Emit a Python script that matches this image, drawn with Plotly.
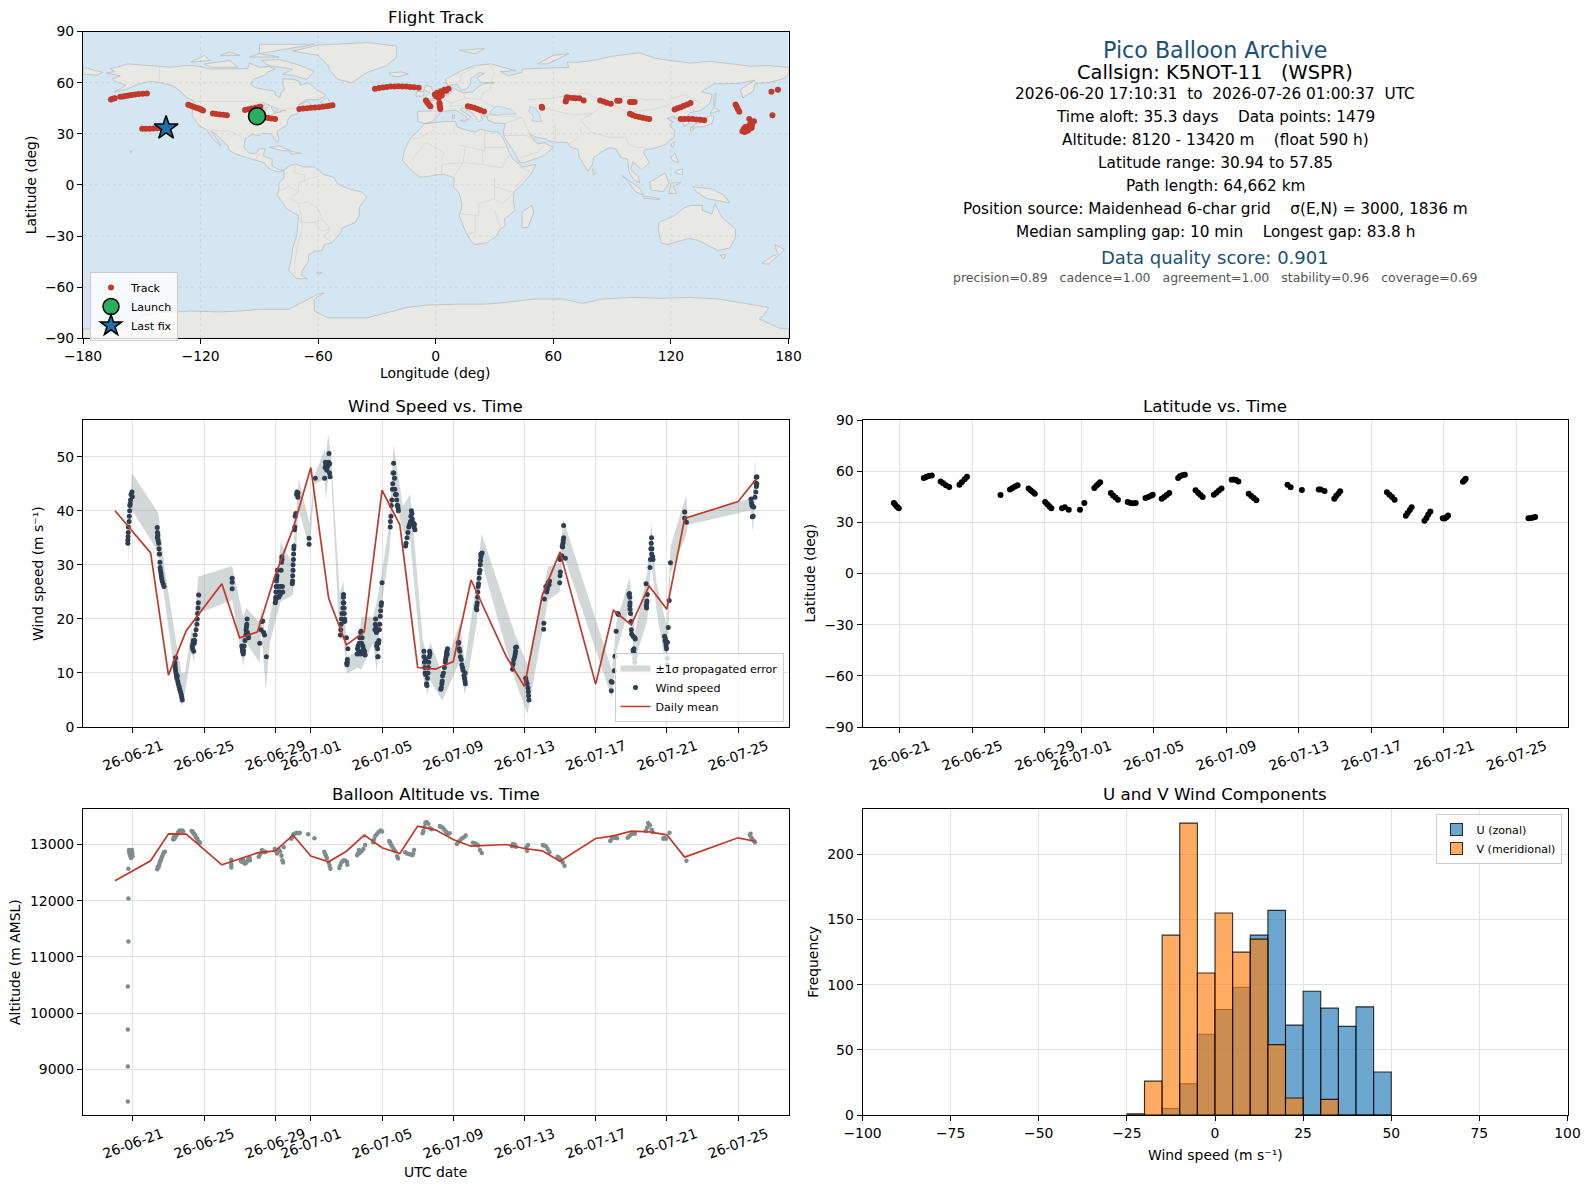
"""
plot.py

Pico balloon flight summary: track map, info text, wind, latitude, altitude, wind histogram.
Values are read off the reference picture.
"""

import pandas as pd
import plotly.graph_objects as go

# the browser keeps its 8 px body margin around the plot
PAGE_MARGIN = 8
FIG_W, FIG_H = 1590 - 2 * PAGE_MARGIN, 1189 - 2 * PAGE_MARGIN
FONT = "DejaVu Sans"

# ---- colours
RED = "#c0392b"
NAVY = "#2c3e50"
GREY = "#7f8c8d"
TITLE_BLUE = "#1a5276"
OCEAN = "#d4e6f1"
LAND = "#e8e8e4"
COAST = "#b9bcbe"
BORDER = "#d2d3d2"
GRID = "#e2e2e2"

# ---- dates
START_DAY = "2026-06-20"
date_ticks = ["2026-06-21", "2026-06-25", "2026-06-29", "2026-07-01", "2026-07-05",
              "2026-07-09", "2026-07-13", "2026-07-17", "2026-07-21", "2026-07-25"]
date_range = ["2026-06-18 04:48", "2026-07-27 20:00"]
# latitude panel has no daily means, so its range starts later
lat_date_range = ["2026-06-18 22:50", "2026-07-27 19:30"]

# ---- map: track fixes
track_lon = [-165.7, -164.8, -163.8, -161.0, -159.6, -158.2, -156.8, -155.2, -153.4, -151.6, -149.5, -147.4,
             -149.8, -148.0, -146.0, -144.0, -142.0, -140.0, -137.6,
             -126.3, -125.0, -123.6, -122.2, -120.8, -119.8, -118.8,
             -113.7, -112.0, -110.2, -108.4, -106.6,
             -97.3, -95.6, -93.8, -92.0, -90.4, -89.5,
             -88.4, -87.0, -85.4, -83.8, -82.0,
             -69.6, -67.6, -65.6, -63.6, -61.6, -59.6, -57.6, -55.6, -54.2, -52.7,
             -31.0, -29.0, -27.0, -25.0, -23.0, -21.0, -19.0, -17.0, -15.0, -13.0, -11.0, -8.7,
             -5.0, -4.4, -3.6, -2.8,
             -0.5, 0.2, 0.8, 1.8, 2.6, 3.4, 4.4, 5.4, 6.5, 1.5, 3.0,
             1.9, 2.0, 2.1, 2.3,
             16.4, 18.0, 19.6, 21.2, 22.8, 24.6,
             54.1, 54.3,
             66.3, 66.6, 66.9, 68.0, 70.0, 71.5, 73.3, 75.5,
             83.9, 85.6, 87.2, 89.3,
             92.6, 93.8,
             99.1, 100.3, 101.5,
             99.1, 100.4, 102.0, 103.8, 105.6, 107.4, 109.0,
             121.9, 123.4, 125.0, 126.6, 128.4, 130.0,
             125.0, 127.0, 129.0, 131.0, 133.0, 135.0, 137.0,
             153.0, 153.6, 154.2, 154.9,
             156.5, 157.6, 158.6, 159.8, 160.8, 161.6, 162.4, 160.0, 158.0, 157.2, 159.4, 161.2,
             157.8, 158.8, 160.2, 161.4, 159.0, 160.5,
             171.3, 174.6, 171.8]
track_lat = [50.1, 50.5, 50.9, 51.7, 51.9, 52.1, 52.5, 52.8, 53.1, 53.4, 53.5, 53.6,
             32.9, 32.9, 33.0, 33.1, 33.2, 33.3, 33.4,
             47.0, 46.5, 45.9, 45.3, 44.8, 44.2, 43.6,
             41.9, 41.6, 41.3, 41.1, 40.9,
             44.0, 44.4, 44.8, 45.2, 45.6, 45.8,
             39.7, 39.5, 39.2, 39.0, 38.7,
             44.6, 44.8, 45.0, 45.2, 45.4, 45.6, 45.9, 46.2, 46.5, 46.8,
             56.4, 56.8, 57.2, 57.5, 57.7, 57.8, 57.85, 57.8, 57.7, 57.5, 57.3, 57.0,
             49.5, 48.5, 47.3, 46.2,
             53.0, 52.0, 54.0, 53.0, 55.0, 54.5, 55.8, 55.2, 56.4, 51.0, 52.5,
             48.0, 47.0, 45.8, 44.6,
             46.2, 45.7, 45.2, 44.5, 43.8, 43.0,
             45.8, 45.2,
             49.0, 50.0, 51.4, 51.2, 51.0, 50.9, 50.8, 49.5,
             49.5, 49.0, 48.2, 47.6,
             49.3, 49.3,
             48.7, 48.7, 48.6,
             41.7, 41.0, 40.3, 39.8, 39.4, 39.0, 38.7,
             44.2, 44.9, 45.6, 46.4, 47.2, 48.1,
             38.7, 38.7, 38.7, 38.6, 38.4, 38.2, 38.0,
             47.2, 45.8, 44.4, 42.9,
             31.5, 31.0, 32.6, 34.6, 36.0, 36.8, 37.4, 38.7, 34.0, 33.0, 32.0, 33.6,
             32.0, 33.8, 35.2, 35.5, 31.8, 33.2,
             54.6, 55.8, 40.9]
launch_lon, launch_lat = [-91.2], [40.3]
last_lon, last_lat = [-137.6], [33.4]

map_lon_ticks = [-180, -120, -60, 0, 60, 120, 180]
map_lat_ticks = [-90, -60, -30, 0, 30, 60, 90]

# ---- map: land outlines as lon, lat rings
north_america = [(-168, 65.6), (-164, 66.5), (-166, 68.3), (-163, 69), (-157, 71), (-150, 70.5), (-141, 69.7),
                 (-135, 69), (-128, 70), (-122, 69.8), (-115, 68), (-108, 68), (-100, 68), (-96, 68.2), (-95, 71.5),
                 (-90, 69), (-85, 69.5), (-82, 68), (-86, 66), (-87, 64.5), (-93, 62), (-94.5, 59), (-92, 57),
                 (-85, 55.3), (-82, 55), (-82, 52.8), (-79.5, 51.3), (-79, 54), (-77, 56), (-78, 58.5), (-78, 62.3),
                 (-73, 62), (-70, 61), (-69, 58.5), (-65, 60), (-61, 56), (-56, 52.5), (-60, 50), (-66, 50), (-70, 47),
                 (-65, 49), (-64, 46.5), (-61, 46), (-65.5, 43.8), (-70, 43.7), (-70.5, 41.7), (-74, 40.7), (-75.5, 38),
                 (-76, 35), (-81, 31.5), (-80, 26.5), (-81, 25), (-82.7, 28), (-84, 30), (-89, 30.2), (-90, 29),
                 (-94, 29.5), (-97.3, 27), (-97.8, 22), (-95, 18.5), (-91.5, 18.5), (-90.5, 21), (-87, 21.5), (-88, 17),
                 (-83.5, 15), (-83.5, 11), (-80, 9), (-77.5, 8.5), (-79.5, 7.5), (-83, 8.5), (-85.5, 10), (-87.5, 13),
                 (-92, 14.5), (-96, 16), (-102, 18), (-105.5, 20.5), (-106, 23), (-109, 26), (-112.5, 30), (-114.7, 31.5),
                 (-112, 27), (-109.5, 23), (-112, 25), (-115, 29), (-117, 32.5), (-120.5, 34.5), (-122.5, 37.5),
                 (-124.3, 40.5), (-124, 46), (-123, 49), (-127, 51), (-130, 54.5), (-134, 58), (-140, 60), (-146, 60.8),
                 (-152, 59), (-158, 56), (-164, 54.5), (-158, 58.5), (-162, 60), (-165, 62), (-161, 64)]
south_america = [(-77.5, 8.5), (-75, 11), (-71.5, 12.3), (-68, 10.7), (-62, 10.5), (-57, 6), (-52, 4.5), (-50, 0.5),
                 (-44, -2.5), (-38, -4), (-35, -7), (-39, -13), (-39, -18), (-41, -22), (-48, -25.5), (-48.5, -28),
                 (-53, -34), (-57, -35), (-58, -38.5), (-62, -39), (-65, -41), (-65, -45), (-68, -50), (-68.5, -53),
                 (-65.5, -55), (-71, -55), (-75, -50), (-73.5, -42), (-73, -37), (-71, -30), (-70, -18), (-76, -14),
                 (-81, -6), (-80, -2.5), (-80, 1), (-77.5, 4)]
africa = [(-6, 35.8), (3, 37), (10, 37.3), (11, 34), (15, 32.3), (20, 31), (23, 32.5), (29, 31), (32, 31.2), (34, 28),
          (36, 23.5), (37.5, 19), (39.5, 15), (43, 12), (44, 10.5), (51, 12), (49, 7), (43, -1), (40, -4), (39.5, -10),
          (40.5, -15), (35, -20), (35.5, -24), (32.7, -26), (31, -30), (26, -34), (20, -35), (18, -33), (15, -27),
          (12, -18), (13.5, -12), (12, -5), (9, -1), (9.5, 4), (5, 6), (1, 6), (-4, 5), (-8, 4.5), (-13, 9), (-17, 14.5),
          (-16, 20), (-13, 27.5), (-9.5, 31)]
eurasia = [(-9, 37), (-9.3, 43), (-2, 43.5), (-1, 46), (-4.5, 48.5), (1.5, 50.5), (4, 52), (8, 54), (8.5, 57), (11, 55.5),
           (14, 54), (19, 54.5), (21, 57), (24, 59.2), (30, 60), (23, 60), (21, 63), (25, 65.5), (22, 65.8), (17.5, 62),
           (18, 60), (16, 56.5), (13, 55.5), (11, 59), (6, 58.3), (5, 62), (14, 67.5), (20, 70), (28, 71), (41, 67),
           (33, 66.5), (37, 64), (44, 66), (44, 68), (54, 68.5), (68, 69), (67, 72), (73, 72), (80, 73), (90, 75.5),
           (104, 77.5), (113, 74), (130, 71.5), (140, 72.5), (160, 69.7), (170, 70), (180, 69), (180, 65), (178, 62.5),
           (170, 60), (163, 59.5), (162, 55), (156.7, 51), (155.5, 56), (163, 61.5), (155, 59.5), (142, 59.3),
           (135.5, 54.7), (141, 53), (140, 48), (135, 43.5), (130, 42.5), (127.5, 39.5), (129.5, 36), (126.5, 34.5),
           (126, 37.5), (125, 39.6), (121.5, 39), (122, 40.5), (118, 39), (121, 37), (119.5, 35), (122, 31), (121.5, 28),
           (117, 23.5), (110, 21), (107, 21), (106, 19), (109, 13), (105, 8.8), (103, 11), (100.5, 13.5), (99.5, 9),
           (103.5, 4.5), (104, 1.3), (101, 3), (98.5, 8), (98, 15), (94.5, 16), (92, 21), (89, 21.8), (87, 21), (80.5, 16),
           (80, 12), (77.5, 8), (73, 17), (72.5, 21), (69, 22), (67, 25), (61, 25), (57, 26), (56.5, 27), (51, 28), (48, 30),
           (50, 26), (52, 24), (56, 25), (56.5, 24), (60, 22), (55, 17), (45, 13), (43, 13), (39, 21), (35, 28), (34.5, 31),
           (35.5, 36), (30, 36.3), (26.5, 38), (26.5, 40.2), (23, 40.5), (24, 38), (22, 37), (19.5, 41), (19, 42),
           (13.5, 45.5), (12.5, 44), (18, 40), (16, 38), (15.7, 40), (10, 44), (3, 43), (0, 39), (-2, 37), (-5.5, 36)]
chukotka = [(-180, 69), (-175, 67.5), (-170, 66), (-173, 64.3), (-180, 65)]
greenland = [(-73, 78.5), (-60, 82), (-35, 83.5), (-20, 81.5), (-20, 75), (-25, 70), (-35, 66), (-43, 60), (-50, 62),
             (-54, 67), (-55, 70), (-60, 76)]
australia = [(114, -22), (122, -18), (126, -14), (130, -12), (136, -12), (136, -15), (141, -17), (142.5, -11), (146, -19),
             (153, -26), (153, -31), (150, -37), (144, -38.5), (138, -35), (134, -32.5), (129, -31.5), (124, -33),
             (118, -35), (115, -34), (113.5, -26)]
antarctica = [(-180, -90), (-180, -84.5), (-165, -84.5), (-155, -82), (-150, -77), (-140, -75), (-125, -74), (-110, -74.5),
              (-100, -74), (-90, -73), (-75, -73), (-68, -69), (-60, -64), (-57, -63.5), (-62, -67), (-62, -74), (-55, -78),
              (-35, -78), (-28, -76), (-15, -72), (-5, -70.5), (10, -70), (25, -70), (35, -69), (50, -67), (65, -67),
              (75, -69.5), (85, -67), (100, -66), (115, -66.5), (130, -66), (145, -67), (160, -70), (170, -72), (167, -77),
              (165, -78.5), (175, -84), (180, -84.5), (180, -90)]
islands = [
    [(-80, 73.5), (-70, 70.5), (-62, 66.5), (-66, 62), (-72, 64), (-78, 65), (-73, 68), (-85, 70), (-89, 73)],
    [(-118, 71), (-105, 73), (-101, 69), (-115, 69)],
    [(-90, 77), (-62, 82.5), (-90, 82.5)],
    [(-125, 72), (-118, 76), (-115, 73)],
    [(-95, 75), (-80, 75), (-90, 77)],
    [(-110, 76), (-100, 76), (-105, 78)],
    [(-59, 48), (-53, 47), (-55.5, 51.5)],
    [(-24, 65.5), (-18, 66.3), (-14, 65), (-19, 63.4), (-22.5, 64)],
    [(-5.5, 50), (1, 51), (1.5, 53), (-2, 56), (-2, 57.5), (-5, 58.5), (-6, 56), (-3, 54), (-5, 52)],
    [(-10, 52), (-6, 52.2), (-6, 55), (-10, 54.5)],
    [(12, 79), (25, 80), (20, 77)],
    [(52, 71), (60, 76), (68, 77), (57, 71)],
    [(142, 46), (143, 50), (143, 54), (142, 53)],
    [(131, 34), (136, 34), (141, 36), (142, 40), (140, 41), (137, 37), (132, 35.5)],
    [(140, 42), (145, 43.5), (142, 45.5)],
    [(130, 31.5), (132, 33), (130, 33.8)],
    [(120, 23), (121, 22), (122, 25), (121, 25)],
    [(120, 16), (122, 18.5), (124, 13), (121, 14)],
    [(122, 7), (126, 6), (126, 9.5), (123, 8.5)],
    [(95, 5.5), (104, -2), (106, -6), (102, -4), (98, 2)],
    [(105.5, -6.5), (114.5, -8), (114, -8.7), (106, -7.7)],
    [(109, 1.5), (117, 7), (119, 1), (116, -4), (110, -3)],
    [(119, -5), (120, 1), (125, 1.5), (121, -1), (123, -5)],
    [(131, -1), (141, -2.5), (147, -6), (150, -10.5), (143, -9), (138, -8), (133, -4)],
    [(145, -41), (148, -41), (147, -43.5)],
    [(173, -35), (178, -38), (175, -41.5), (174, -39)],
    [(172.5, -41), (174, -42), (170, -46.5), (166.5, -46)],
    [(49, -12), (50, -16), (47, -25), (44, -25), (44, -16)],
    [(80, 9.5), (82, 7), (80.5, 6)],
    [(-85, 22), (-80, 23), (-74, 20), (-78, 20)],
    [(-74, 19.8), (-68.5, 18.5), (-74, 18)],
    [(-156, 20.2), (-155, 19.5), (-155.7, 19)],
    [(-61, -51.5), (-58, -51.5), (-59.5, -52.3)],
    [(8.5, 41), (9.5, 41), (9.5, 39), (8.5, 39)],
    [(12.5, 38), (15.5, 38), (15, 36.8)],
]
# inland water, painted over the land
lakes = [
    [(28, 41.5), (31, 41), (36, 41.5), (41, 41.5), (39, 44), (36.5, 45), (33, 46), (30.5, 46), (28, 43.5)],
    [(49, 37.5), (54, 37), (53, 41), (51, 45), (48, 46), (47.5, 43), (50, 40)],
    [(-92, 46.7), (-85, 47), (-84.5, 46.5), (-88, 48.5)],
    [(-87.5, 42), (-85.5, 45.5), (-87, 45.5)],
    [(-84, 46), (-80, 44.5), (-82, 43), (-83.5, 44)],
    [(-83, 41.7), (-79, 42.8), (-82, 42.5)],
    [(-79.5, 43.3), (-76.3, 43.6), (-79, 43.9)],
]
borders = [
    [(-123, 49), (-95, 49), (-89, 48), (-83, 46), (-82.5, 42), (-79, 43), (-75, 45), (-71, 45), (-67.5, 47), (-67, 45)],
    [(-141, 69.7), (-141, 60), (-135, 59), (-130, 55)],
    [(-117, 32.5), (-108, 31.5), (-106.5, 31.8), (-101, 29.5), (-97.3, 26)],
    [(-92, 14.5), (-91, 17.5), (-89, 18)],
    [(-60, 5), (-64, 4), (-70, 1), (-70, -4), (-74, -8), (-70, -11), (-65, -10), (-60, -14), (-58, -20), (-55, -24),
     (-54, -27), (-57.5, -30), (-53, -33.5)],
    [(-70, -18), (-68, -24), (-70, -33), (-72, -45), (-72, -52)],
    [(-72, 12), (-72, 7), (-67, 6), (-67, 1.5)],
    [(-80, -3.5), (-75, -1), (-70, -4)],
    [(-70, -11), (-69, -17), (-68, -22), (-62, -22), (-58, -20)],
    [(-62, -22), (-58, -27), (-54.5, -26)],
    [(-13, 27.5), (-8.7, 27.3), (-1, 32), (-1.5, 35)],
    [(9, 30), (10, 37)],
    [(12, 23.5), (25, 20), (25, 31.5)],
    [(25, 22), (37, 22)],
    [(-12, 15), (-5, 25), (4, 19), (3, 15)],
    [(15, 23), (14, 13), (24, 12), (24, 20)],
    [(24, 12), (34, 10), (36, 15), (38, 18)],
    [(42, 11), (48, 8), (41, -1)],
    [(30, 4), (30, -8), (22, -11), (22, -18), (12, -17)],
    [(20, -18), (20, -28), (16, -28.5)],
    [(30, -15), (33, -25)],
    [(30, -1), (40, -4.5), (34, -11), (30, -8)],
    [(3, 6), (3, 12), (14, 13), (9, 4.5)],
    [(47, 50), (60, 51), (76, 54), (87, 49), (80, 42), (70, 41), (56, 45), (52, 42)],
    [(87, 49), (98, 42.5), (112, 44.5), (119, 47), (116, 50), (107, 50), (98, 52), (87, 49)],
    [(119, 50), (127, 53), (135, 48), (131, 43)],
    [(80, 42), (74, 38), (79, 31), (88, 28), (97, 28), (98, 24), (102, 22), (107, 22)],
    [(74, 34), (74, 30), (70, 25), (68, 24)],
    [(44, 39.5), (48, 30)],
    [(61, 36), (61, 25)],
    [(-1.7, 43.3), (3, 42.5)],
    [(8, 48), (2.5, 51)],
    [(6, 51), (7, 54)],
    [(14, 54), (15, 51), (23, 50), (24, 54), (28, 56), (28, 60)],
    [(14, 46.5), (7, 46), (8, 48), (15, 51)],
    [(23, 50), (30, 45.5), (28, 42), (26, 41)],
    [(28, 60), (30, 65), (28, 70)],
    [(12, 59), (13, 65), (20, 69)],
    [(26, 41), (44, 39.5), (36, 36.5)],
    [(35, 29), (46, 29), (56, 24), (52, 19), (43, 16)],
]

# ---- wind speed: day since 06-20 00:00, m/s
wind_day = [0.72, 0.72, 0.73, 0.74, 0.75, 0.79, 0.80, 0.82, 0.83, 0.85, 0.87, 0.90, 0.95, 0.97,
            2.37, 2.38, 2.40, 2.38, 2.42, 2.45, 2.47, 2.48, 2.50, 2.52, 2.53, 2.55, 2.58, 2.60, 2.62, 2.65, 2.70, 2.75,
            3.36, 3.38, 3.40, 3.42, 3.45, 3.47, 3.50, 3.52, 3.55, 3.60, 3.63, 3.68, 3.72, 3.75, 3.78, 3.40, 3.37,
            4.34, 4.36, 4.38, 4.40, 4.42, 4.45, 4.47, 4.50, 4.55, 4.60, 4.62, 4.64, 4.66, 4.68, 4.70,
            6.58, 6.58, 6.58,
            7.12, 7.15, 7.17, 7.19, 7.20, 7.22, 7.25, 7.30, 7.35, 7.38, 7.36, 7.38, 7.40, 7.42, 7.44, 7.48, 7.50,
            8.13, 8.20, 8.25, 8.30, 8.35, 8.40, 8.50,
            9.00, 9.02, 9.03, 9.04, 9.05, 9.07, 9.08, 9.10, 9.12, 9.14, 9.16, 9.20, 9.25, 9.28, 9.30, 9.33, 9.35, 9.37,
            9.38, 9.40, 9.42,
            9.96, 9.97, 9.98, 10.00, 10.00, 10.02, 10.03, 10.04, 10.05, 10.08, 10.10, 10.12, 10.15, 10.20, 10.22, 10.25,
            10.27, 10.28,
            10.90, 10.90, 11.25,
            11.77, 11.80, 11.82, 11.85, 11.90, 11.95, 12.00, 12.02, 12.05, 12.08, 12.06,
            12.66, 12.68, 12.70, 12.72, 12.75, 12.80, 12.82, 12.84, 12.83, 12.85, 12.87, 12.88, 12.90, 12.90, 13.00, 13.08,
            13.03, 13.04, 13.05, 13.02,
            13.60, 13.62, 13.65, 13.70, 13.72, 13.75, 13.80, 13.82, 13.85, 13.90, 13.92, 13.95, 14.00, 14.02, 14.05, 13.78,
            13.88,
            14.60, 14.62, 14.64, 14.66, 14.68, 14.70, 14.72, 14.75, 14.76, 14.78, 14.80, 14.82, 14.85, 14.87, 14.90, 14.92,
            14.95, 14.97, 15.00,
            15.46, 15.47, 15.50, 15.52, 15.55, 15.58, 15.60, 15.62, 15.65, 15.66, 15.70, 15.72, 15.75, 15.80, 15.82, 15.85,
            15.88, 15.90, 15.92,
            16.32, 16.35, 16.40, 16.45, 16.50, 16.55, 16.60, 16.62, 16.65, 16.68, 16.70, 16.72, 16.75, 16.80, 16.82, 16.85,
            17.35, 17.36, 17.38, 17.40, 17.42, 17.45, 17.50, 17.52, 17.55, 17.58, 17.60, 17.62, 17.65, 17.67, 17.69, 17.45,
            18.30, 18.33, 18.36, 18.38, 18.40, 18.45, 18.50, 18.55, 18.57, 18.60, 18.62, 18.64, 18.66, 18.68,
            19.28, 19.30, 19.33, 19.37, 19.40, 19.45, 19.48, 19.52, 19.55, 19.60, 19.63, 19.66, 19.68, 19.66,
            20.30, 20.32, 20.33, 20.35, 20.37, 20.38, 20.40, 20.42, 20.45, 20.47, 20.50, 20.52, 20.53, 20.55, 20.58, 20.62,
            20.55,
            22.33, 22.35, 22.36, 22.40, 22.45, 22.48, 22.50, 22.50, 22.55,
            23.07, 23.10, 23.15, 23.20, 23.22, 23.23, 23.25,
            24.08, 24.09, 24.12, 24.20, 24.25, 24.28, 24.30, 24.32, 24.35, 24.38, 24.41,
            24.98, 25.00, 25.02, 25.00, 25.02, 25.10, 25.30, 25.12, 25.14, 25.16, 25.18, 25.20, 25.20,
            27.88, 27.87, 27.92, 28.05, 28.08, 28.15, 28.24, 28.28,
            28.87, 28.90, 28.92, 28.93, 28.92, 28.93, 28.96, 28.98, 29.00, 29.02, 29.10, 29.20, 29.22, 29.15, 29.10, 29.13,
            29.18, 29.23, 29.18, 29.20,
            29.83, 29.85, 29.86, 29.87, 29.88, 29.90, 30.05, 30.08, 30.10, 30.12, 30.14, 30.16, 30.15, 30.20, 30.22,
            30.87, 30.90, 30.92, 30.95, 30.96, 30.98, 31.03, 31.03, 31.03, 31.08, 31.13, 31.20,
            32.00, 32.10, 32.00,
            35.73, 35.75, 35.78, 35.82, 35.88, 35.80, 35.85, 35.95, 36.00, 36.03, 36.05, 36.06, 36.02, 36.00]
wind_speed = [34.0, 34.6, 35.2, 36.0, 37.0, 38.0, 39.0, 40.0, 41.0, 41.3, 42.0, 43.0, 43.5, 42.6,
              36.9, 36.0, 35.5, 35.0, 34.5, 34.0, 33.0, 32.0, 32.0, 30.5, 29.5, 29.0, 28.5, 28.0, 27.5, 27.0, 26.5, 26.0,
              12.0, 11.0, 10.5, 10.0, 9.5, 9.0, 9.5, 8.5, 8.0, 7.5, 7.0, 6.5, 6.0, 5.5, 5.0, 12.8, 11.5,
              15.0, 14.5, 15.5, 16.0, 14.0, 15.5, 16.0, 17.0, 18.0, 19.0, 20.0, 21.0, 22.0, 23.0, 24.4,
              27.5, 26.8, 25.6,
              15.0, 14.5, 14.0, 13.8, 13.5, 14.2, 15.0, 16.0, 17.0, 17.5, 18.0, 18.5, 19.0, 20.0, 17.5, 17.0, 16.5,
              15.5, 18.0, 19.5, 19.6, 17.5, 17.0, 13.0,
              23.0, 23.5, 24.0, 25.0, 26.0, 27.0, 27.5, 28.0, 29.0, 26.0, 25.0, 24.0, 25.0, 24.5, 26.0, 29.0, 30.5, 31.5,
              31.0, 26.0, 25.0,
              26.5, 27.0, 28.0, 29.0, 30.0, 31.0, 32.0, 33.0, 33.5, 36.5, 37.0, 39.0, 39.5, 43.0, 43.5, 43.0, 42.5, 43.3,
              33.8, 34.9, 46.0,
              46.0, 48.0, 49.0, 48.5, 47.5, 48.2, 49.0, 50.6, 47.0, 46.3, 48.7,
              17.0, 18.0, 19.0, 20.0, 21.0, 22.0, 23.0, 24.5, 24.0, 23.0, 22.0, 21.0, 20.0, 19.5, 16.5, 14.5, 11.5, 12.0,
              12.5, 11.8,
              13.5, 14.5, 15.0, 14.0, 15.5, 16.5, 17.5, 17.7, 15.5, 14.0, 15.0, 14.5, 13.5, 14.0, 13.3, 13.5, 16.5,
              18.0, 19.0, 20.0, 18.5, 17.5, 15.0, 15.5, 14.5, 13.0, 13.0, 15.5, 16.0, 18.0, 19.0, 20.5, 21.5, 22.5, 23.0, 26.7,
              37.0, 38.0, 39.0, 41.0, 42.0, 44.0, 45.0, 47.0, 48.8, 47.0, 46.0, 44.0, 43.0, 43.0, 42.0, 41.0, 41.0, 40.5, 40.0,
              33.5, 34.0, 35.0, 36.0, 37.0, 37.5, 38.0, 39.0, 40.0, 39.5, 38.5, 37.5, 37.8, 37.0, 37.5, 36.5,
              14.0, 13.0, 12.0, 11.0, 10.0, 9.7, 8.0, 7.7, 9.0, 10.0, 11.0, 12.0, 13.0, 14.0, 13.5, 12.5,
              7.0, 7.3, 8.0, 8.5, 9.5, 10.0, 11.0, 12.0, 12.5, 13.0, 13.5, 14.0, 13.5, 14.5,
              15.5, 15.7, 14.5, 14.0, 13.0, 12.5, 11.5, 11.0, 10.5, 9.5, 9.0, 8.5, 8.0, 10.0,
              22.0, 21.7, 22.5, 23.0, 24.0, 25.0, 26.0, 26.5, 27.5, 28.5, 29.0, 30.0, 30.8, 31.5, 32.0, 32.2, 32.0,
              10.7, 11.5, 11.8, 12.5, 13.0, 13.5, 14.0, 14.7, 14.8,
              9.0, 8.5, 8.0, 7.2, 6.5, 5.8, 5.0,
              18.1, 19.2, 23.7, 26.0, 25.0, 25.5, 26.0, 26.5, 26.8, 26.3, 27.0,
              26.7, 28.0, 28.7, 31.0, 31.5, 31.7, 31.2, 33.5, 33.3, 34.0, 34.5, 35.0, 37.3,
              6.7, 8.4, 8.3, 10.4, 13.1, 17.7, 21.0, 20.8,
              24.5, 24.7, 24.0, 23.0, 22.5, 21.8, 21.0, 19.5, 18.0, 17.2, 16.8, 16.5, 16.3, 14.5, 14.2, 13.8, 13.5, 13.2, 12.7, 12.0,
              26.5, 22.5, 22.0, 23.0, 23.3, 24.5, 29.5, 31.0, 33.0, 34.0, 35.0, 33.0, 32.0, 31.5, 31.0,
              16.8, 16.0, 16.3, 15.5, 15.0, 14.5, 15.7, 12.7, 11.5, 18.4, 23.4, 30.4,
              39.8, 37.9, 38.6,
              42.2, 41.5, 41.0, 40.8, 40.7, 38.9, 39.0, 42.5, 43.5, 44.5, 45.0, 46.3, 46.2, 45.2]

# propagated error band vertices
band_day = [0.75, 0.84, 0.95, 2.43, 2.80, 3.46, 3.74, 3.93, 4.30, 4.43, 4.67, 6.58, 7.20, 7.38, 8.13, 8.22, 8.47, 8.69,
            9.07, 9.31, 10.00, 10.04, 10.32, 10.93, 11.21, 11.78, 11.83, 11.98, 12.15, 12.62, 12.84, 13.03, 13.64, 13.83,
            14.49, 14.71, 14.95, 15.42, 15.64, 16.17, 16.58, 17.29, 17.57, 17.69, 18.38, 19.37, 19.65, 20.31, 20.59, 22.46,
            23.17, 24.33, 24.98, 25.17, 27.92, 28.16, 28.91, 29.19, 29.90, 30.12, 30.40, 31.00, 31.20, 32.08, 32.18, 35.73,
            35.82, 35.97]
band_up = [36.1, 40.8, 47.0, 39.6, 29.0, 15.2, 10.0, 10.0, 18.0, 17.0, 27.8, 29.8, 20.4, 22.0, 19.2, 22.3, 16.0, 20.4,
           26.6, 34.2, 30.0, 34.0, 45.8, 37.7, 46.6, 51.4, 50.0, 54.2, 49.7, 24.7, 27.0, 13.0, 14.0, 20.4,
           20.4, 23.2, 27.8, 37.7, 52.2, 40.8, 43.1, 16.1, 12.4, 15.8, 9.9, 19.2, 11.8, 27.0, 35.8, 17.2,
           11.5, 29.7, 30.3, 38.5, 10.5, 19.2, 27.7, 17.3, 28.6, 37.8, 27.0, 18.5, 33.3, 42.9, 38.6, 42.4,
           42.0, 50.0]
band_low = [30.4, 37.1, 40.1, 32.4, 23.2, 7.2, 3.8, 6.5, 14.0, 12.0, 21.0, 23.5, 11.3, 15.5, 11.9, 18.0, 6.7, 15.5,
            20.4, 23.2, 24.4, 27.0, 40.1, 33.0, 44.8, 46.0, 42.0, 46.0, 46.0, 16.5, 16.0, 9.9, 11.0, 10.6,
            15.5, 10.0, 22.2, 32.7, 43.2, 36.4, 34.3, 9.4, 6.0, 8.7, 4.9, 12.1, 5.9, 19.2, 30.6, 8.8,
            2.4, 23.5, 25.0, 32.1, 5.3, 14.0, 22.3, 12.1, 19.8, 30.9, 22.0, 10.0, 28.4, 35.5, 37.4, 40.1,
            36.0, 42.6]

# daily means, taken at 00:00 of each day
mean_wind_dates = ["06-20", "06-22", "06-23", "06-24", "06-26", "06-27", "06-28", "06-29", "06-30", "07-01", "07-02",
                   "07-03", "07-04", "07-05", "07-06", "07-07", "07-08", "07-09", "07-10", "07-12", "07-13", "07-14",
                   "07-15", "07-17", "07-18", "07-19", "07-20", "07-21", "07-22", "07-25", "07-26"]
mean_wind = [40.0, 32.2, 9.6, 17.8, 26.5, 16.5, 17.6, 28.1, 36.7, 48.0, 23.8, 15.2, 17.6, 43.8, 37.4, 11.0, 10.7, 12.1,
             27.2, 12.9, 7.5, 24.4, 32.4, 7.9, 21.6, 18.9, 26.1, 21.8, 38.6, 41.7, 45.8]
mean_alt = [12354, 12710, 13190, 13184, 12639, 12739, 12852, 12887, 13166, 12793, 12692, 12881, 13166, 12941, 12840,
            13326, 13261, 13089, 12970, 13000, 12929, 12887, 12704, 13107, 13154, 13237, 13225, 13172, 12775, 13119, 13053]

# ---- latitude vs. time
lat_day = [0.68, 0.76, 0.85, 0.95, 2.33, 2.45, 2.60, 2.77, 3.26, 3.40, 3.55, 3.73, 4.30, 4.42, 4.58, 4.71, 6.56,
           7.08, 7.22, 7.36, 7.50, 8.11, 8.22, 8.34, 8.45, 9.02, 9.14, 9.25, 9.36, 9.95, 10.10, 10.32, 10.94, 11.18,
           11.73, 11.84, 11.95, 12.05, 12.64, 12.76, 12.90, 13.03, 13.57, 13.72, 13.86, 14.01, 14.55, 14.70, 14.85, 14.95,
           15.44, 15.58, 15.72, 15.86, 16.35, 16.45, 16.58, 16.72, 17.31, 17.45, 17.58, 17.70, 18.32, 18.46, 18.60, 18.74,
           19.30, 19.42, 19.55, 19.67, 20.24, 20.38, 20.52, 20.66, 22.38, 22.55, 23.17, 24.10, 24.20, 24.42,
           24.96, 25.06, 25.18, 25.28, 27.86, 28.00, 28.14, 28.28, 28.90, 29.00, 29.12, 29.22, 29.93, 30.04, 30.14, 30.25,
           30.94, 31.04, 31.14, 31.23, 32.05, 32.14, 32.20, 35.66, 35.80, 35.92, 36.03]
lat_val = [41.3, 40.3, 39.2, 38.3, 56.0, 56.6, 57.2, 57.4, 53.9, 52.9, 51.8, 50.7, 52.0, 53.5, 55.2, 56.7, 46.0,
           49.2, 50.2, 51.0, 51.7, 49.8, 48.8, 47.8, 46.8, 41.9, 40.6, 39.4, 38.3, 38.3, 38.9, 37.4, 37.4, 41.3,
           50.2, 51.4, 52.5, 53.5, 47.2, 45.8, 44.5, 43.3, 41.9, 41.4, 41.2, 41.3, 44.3, 44.9, 45.6, 46.2,
           43.9, 44.8, 46.0, 47.2, 56.0, 57.0, 57.6, 57.85, 48.8, 47.4, 46.0, 44.8, 46.2, 47.4, 48.7, 49.8,
           55.0, 55.1, 54.8, 54.0, 46.8, 45.4, 44.2, 42.9, 52.0, 50.5, 49.0, 49.2, 49.3, 48.4,
           43.9, 45.4, 46.8, 48.2, 47.6, 46.2, 44.8, 43.3, 33.8, 35.4, 37.2, 38.9, 30.94, 32.6, 34.6, 36.4,
           32.4, 32.2, 33.0, 34.0, 53.8, 54.7, 55.5, 32.4, 32.6, 32.9, 33.2]

# ---- altitude vs. time
alt_day = [0.72, 0.72, 0.72, 0.72, 0.75, 0.75, 0.75,
           0.78, 0.80, 0.82, 0.85, 0.87, 0.90, 0.93, 0.95, 0.97, 0.98,
           2.37, 2.40, 2.43, 2.47, 2.50, 2.53, 2.57, 2.60, 2.65, 2.70, 2.75, 2.80,
           3.27, 3.30, 3.35, 3.42, 3.50, 3.55, 3.62, 3.70, 3.78, 3.83,
           4.30, 4.35, 4.40, 4.45, 4.50, 4.55, 4.60, 4.65, 4.70, 4.78,
           6.53, 6.53, 6.53,
           7.07, 7.15, 7.20, 7.28, 7.35, 7.43, 7.50, 7.55, 7.58,
           8.07, 8.12, 8.18, 8.25, 8.32, 8.40, 8.46,
           8.97, 9.05, 9.10, 9.20, 9.28, 9.35, 9.40, 9.44, 9.48,
           9.90, 9.95, 10.02, 10.10, 10.20, 10.30, 10.38, 10.85, 11.20,
           11.75, 11.80, 11.85, 11.90, 12.00, 12.05, 12.10,
           12.60, 12.65, 12.72, 12.78, 12.85, 12.95, 13.03, 13.05,
           13.60, 13.65, 13.70, 13.75, 13.85, 13.95, 14.05,
           14.50, 14.55, 14.62, 14.70, 14.80, 14.92, 15.00,
           15.40, 15.45, 15.50, 15.58, 15.65, 15.75, 15.85, 15.90,
           16.30, 16.40, 16.50, 16.60, 16.70, 16.75, 16.80,
           17.28, 17.32, 17.38, 17.43, 17.50, 17.60, 17.70, 17.78,
           18.25, 18.30, 18.40, 18.50, 18.60, 18.70, 18.80,
           19.20, 19.30, 19.40, 19.50, 19.60, 19.70,
           20.10, 20.20, 20.30, 20.40, 20.50, 20.60,
           22.30, 22.35, 22.45, 22.52, 23.10, 23.15, 23.20,
           24.03, 24.10, 24.20, 24.30, 24.40,
           24.86, 24.95, 25.05, 25.15, 25.25,
           27.82, 27.90, 28.00, 28.10, 28.20,
           28.80, 28.90, 29.00, 29.10, 29.20,
           29.82, 29.90, 29.95, 30.05, 30.15, 30.20,
           30.80, 30.85, 30.95, 31.15, 32.10,
           35.66, 35.70, 35.75, 35.80, 35.90, 35.95]
alt_val = [8431, 9053, 9711, 10476, 11276, 12040, 12567,
           12900, 12850, 12890, 12800, 12870, 12760, 12830, 12900, 12850, 12790,
           12560, 12600, 12590, 12620, 12660, 12700, 12720, 12750, 12790, 12830, 12860, 12870,
           13090, 13130, 13100, 13150, 13180, 13220, 13250, 13240, 13250, 13230,
           13240, 13230, 13200, 13190, 13160, 13130, 13110, 13070, 13050, 13030,
           12730, 12650, 12590,
           12700, 12690, 12730, 12660, 12670, 12700, 12750, 12770, 12720,
           12780, 12810, 12850, 12900, 12880, 12860, 12870,
           12920, 12880, 12840, 12910, 12870, 12800, 12720, 12680, 12950,
           13100, 13130, 13180, 13190, 13210, 13200, 13210, 13180, 13110,
           12870, 12830, 12800, 12760, 12680, 12620, 12570,
           12580, 12630, 12680, 12700, 12720, 12710, 12690, 12640,
           12810, 12840, 12900, 12850, 12880, 12920, 12990,
           13040, 13090, 13150, 13180, 13220, 13250, 13230,
           13060, 13040, 13000, 12960, 12920, 12880, 12790, 12750,
           12860, 12840, 12830, 12820, 12810, 12840, 12900,
           13200, 13240, 13310, 13380, 13400, 13370, 13290, 13270,
           13330, 13310, 13300, 13260, 13220, 13190, 13200,
           13010, 13050, 13080, 13110, 13130, 13160,
           13030, 13020, 13010, 12980, 12900, 12850,
           12970, 13010, 13000, 12960, 12950, 12890, 12990,
           12990, 12980, 12970, 12920, 12860,
           12780, 12760, 12730, 12680, 12620,
           13060, 13100, 13130, 13120, 13110,
           13120, 13150, 13180, 13200, 13190,
           13240, 13300, 13380, 13340, 13260, 13220,
           13100, 13120, 13100, 13210, 12710,
           13170, 13190, 13120, 13090, 13060, 13040]

# ---- histogram of wind components, 5 m/s bins
bin_left = [-25, -20, -15, -10, -5, 0, 5, 10, 15, 20, 25, 30, 35, 40, 45]
u_count = [0, 0, 5, 24, 62, 81, 98, 138, 157, 69, 95, 82, 68, 83, 33]
v_count = [1, 26, 138, 224, 109, 155, 125, 135, 54, 13, 0, 12, 0, 0, 0]

# ---- info panel text
info_lines = [
    ("Pico Balloon Archive", 22.2, TITLE_BLUE, 50),
    ("Callsign: K5NOT-11   (WSPR)", 19.4, "black", 73),
    ("2026-06-20 17:10:31  to  2026-07-26 01:00:37  UTC", 15.3, "black", 94),
    ("Time aloft: 35.3 days    Data points: 1479", 15.3, "black", 117),
    ("Altitude: 8120 - 13420 m    (float 590 h)", 15.3, "black", 140),
    ("Latitude range: 30.94 to 57.85", 15.3, "black", 163),
    ("Path length: 64,662 km", 15.3, "black", 186),
    ("Position source: Maidenhead 6-char grid    σ(E,N) = 3000, 1836 m", 15.3, "black", 209),
    ("Median sampling gap: 10 min    Longest gap: 83.8 h", 15.3, "black", 232),
    ("Data quality score: 0.901", 18.0, TITLE_BLUE, 257),
    ("precision=0.89   cadence=1.00   agreement=1.00   stability=0.96   coverage=0.69", 12.5, "#555555", 278),
]

# panel boxes in page pixels: left, right, top, bottom
LEFT_X = (83, 788.5)
RIGHT_X = (862.5, 1567.5)
ROW1_Y = (31.5, 338.3)
ROW2_Y = (420, 727)
ROW3_Y = (808.5, 1115)

# axis titles: text, x px, y px, rotated
axis_titles = [
    ("Longitude (deg)", 435.7, 373, False),
    ("Latitude (deg)", 30.4, 184.9, True),
    ("Wind speed (m s⁻¹)", 37.5, 573.5, True),
    ("Latitude (deg)", 809, 573.5, True),
    ("Altitude (m AMSL)", 15.2, 961.7, True),
    ("UTC date", 435.7, 1172, False),
    ("Wind speed (m s⁻¹)", 1215, 1155, False),
    ("Frequency", 813, 961.7, True),
]


def xfrac(px):
    return (px - PAGE_MARGIN) / FIG_W


def yfrac(px):
    return 1 - (px - PAGE_MARGIN) / FIG_H


def xdom(box):
    return [xfrac(box[0]), xfrac(box[1])]


def ydom(box):
    return [yfrac(box[1]), yfrac(box[0])]


def to_time(days):
    return pd.Timestamp(START_DAY) + pd.to_timedelta(days, unit="D")


def join_rings(rings, close=True):
    """Flatten rings into lon, lat lists with None gaps."""
    lons, lats = [], []
    for ring in rings:
        pts = ring + ring[:1] if close else ring
        lons += [p[0] for p in pts] + [None]
        lats += [p[1] for p in pts] + [None]
    return lons, lats


def axis_style(**kw):
    style = dict(showline=True, linecolor="black", linewidth=1, mirror=True, ticks="outside", ticklen=5,
                 tickwidth=1, tickcolor="black", showgrid=True, gridcolor=GRID, gridwidth=1, zeroline=False,
                 automargin=False, tickfont=dict(size=13.9, color="black"))
    style.update(kw)
    return style


def date_axis(rng=date_range, **kw):
    return axis_style(type="date", range=rng, tickmode="array",
                      tickvals=[pd.Timestamp(d) for d in date_ticks],
                      ticktext=[pd.Timestamp(d).strftime("%y-%m-%d") for d in date_ticks],
                      tickangle=-20, ticklabelshift=29, **kw)


def page_text(text, x_px, y_px, size, color="black", angle=0):
    """Text placed by pixel position on the page."""
    return dict(text=text, x=xfrac(x_px), y=yfrac(y_px), xref="paper", yref="paper", xanchor="center",
                yanchor="middle", showarrow=False, textangle=angle, font=dict(size=size, color=color))


mean_times = [pd.Timestamp(f"2026-{d}") for d in mean_wind_dates]

fig = go.Figure()

# ---- map
land_rings = [north_america, south_america, africa, eurasia, chukotka, greenland, australia, antarctica] + islands
land_lon, land_lat = join_rings(land_rings)
lake_lon, lake_lat = join_rings(lakes)
border_lon, border_lat = join_rings(borders, close=False)
fig.add_trace(go.Scatter(x=land_lon, y=land_lat, mode="lines", fill="toself", fillcolor=LAND,
                         line=dict(color=COAST, width=0.8), showlegend=False, hoverinfo="skip"))
fig.add_trace(go.Scatter(x=border_lon, y=border_lat, mode="lines", line=dict(color=BORDER, width=0.7),
                         showlegend=False, hoverinfo="skip"))
fig.add_trace(go.Scatter(x=lake_lon, y=lake_lat, mode="lines", fill="toself", fillcolor=OCEAN,
                         line=dict(color=COAST, width=0.6), showlegend=False, hoverinfo="skip"))
# grid sits on top of the land
grid_x, grid_y = [], []
for lon in map_lon_ticks[1:-1]:
    grid_x += [lon, lon, None]
    grid_y += [-90, 90, None]
for lat in map_lat_ticks[1:-1]:
    grid_x += [-180, 180, None]
    grid_y += [lat, lat, None]
fig.add_trace(go.Scatter(x=grid_x, y=grid_y, mode="lines", line=dict(color="rgba(120,120,120,0.18)", width=0.8, dash="dot"),
                         showlegend=False, hoverinfo="skip"))
fig.add_trace(go.Scatter(x=track_lon, y=track_lat, mode="markers", name="Track", legend="legend",
                         marker=dict(color=RED, size=6)))
fig.add_trace(go.Scatter(x=launch_lon, y=launch_lat, mode="markers", name="Launch", legend="legend",
                         marker=dict(color="#27ae60", size=17, line=dict(color="black", width=1.5))))
fig.add_trace(go.Scatter(x=last_lon, y=last_lat, mode="markers", name="Last fix", legend="legend",
                         marker=dict(color="#1f6fa8", size=18, symbol="star", line=dict(color="black", width=1.5))))

# ---- wind speed
band_t = [to_time(d) for d in band_day]
fig.add_trace(go.Scatter(x=band_t + band_t[::-1], y=band_up + band_low[::-1], mode="none", fill="toself",
                         fillcolor="rgba(127,140,141,0.35)", name="±1σ propagated error",
                         xaxis="x2", yaxis="y2", legend="legend2", hoverinfo="skip"))
fig.add_trace(go.Scatter(x=[to_time(d) for d in wind_day], y=wind_speed, mode="markers", name="Wind speed",
                         marker=dict(color=NAVY, size=5), xaxis="x2", yaxis="y2", legend="legend2"))
fig.add_trace(go.Scatter(x=mean_times, y=mean_wind, mode="lines", name="Daily mean",
                         line=dict(color=RED, width=1.7), xaxis="x2", yaxis="y2", legend="legend2"))

# ---- latitude
fig.add_trace(go.Scatter(x=[to_time(d) for d in lat_day], y=lat_val, mode="markers", showlegend=False,
                         marker=dict(color="black", size=6), xaxis="x3", yaxis="y3"))

# ---- altitude
fig.add_trace(go.Scatter(x=[to_time(d) for d in alt_day], y=alt_val, mode="markers", showlegend=False,
                         marker=dict(color=GREY, size=4.5), xaxis="x4", yaxis="y4"))
fig.add_trace(go.Scatter(x=mean_times, y=mean_alt, mode="lines", showlegend=False,
                         line=dict(color=RED, width=1.7), xaxis="x4", yaxis="y4"))

# ---- histogram
bin_mid = [b + 2.5 for b in bin_left]
bar_edge = dict(color="rgba(0,0,0,0.8)", width=1.1)
fig.add_trace(go.Bar(x=bin_mid, y=u_count, width=5, name="U (zonal)", xaxis="x5", yaxis="y5", legend="legend3",
                     marker=dict(color="rgba(31,119,180,0.65)", line=bar_edge)))
fig.add_trace(go.Bar(x=bin_mid, y=v_count, width=5, name="V (meridional)", xaxis="x5", yaxis="y5", legend="legend3",
                     marker=dict(color="rgba(255,127,14,0.65)", line=bar_edge)))

# ---- titles, axis titles and info text as annotations
annotations = []
for text, box_x, box_y in [("Flight Track", LEFT_X, ROW1_Y), ("Wind Speed vs. Time", LEFT_X, ROW2_Y),
                           ("Latitude vs. Time", RIGHT_X, ROW2_Y), ("Balloon Altitude vs. Time", LEFT_X, ROW3_Y),
                           ("U and V Wind Components", RIGHT_X, ROW3_Y)]:
    annotations.append(page_text(text, sum(box_x) / 2, box_y[0] - 14.2, 16.7))
for text, x_px, y_px, rotated in axis_titles:
    annotations.append(page_text(text, x_px, y_px, 13.9, angle=-90 if rotated else 0))
for text, size, color, y_px in info_lines:
    annotations.append(page_text(text, sum(RIGHT_X) / 2, y_px, size, color))

legend_base = dict(bgcolor="rgba(255,255,255,0.8)", bordercolor="#cccccc", borderwidth=1,
                   font=dict(size=11.1, color="black"), tracegroupgap=0)

fig.update_layout(
    width=FIG_W, height=FIG_H, margin=dict(l=0, r=0, t=0, b=0), paper_bgcolor="white", plot_bgcolor="white",
    font=dict(family=FONT, color="black"), barmode="overlay", annotations=annotations,
    shapes=[dict(type="rect", xref="x domain", yref="y domain", x0=0, x1=1, y0=0, y1=1, fillcolor=OCEAN,
                 line=dict(width=0), layer="below")],
    xaxis=axis_style(domain=xdom(LEFT_X), anchor="y", range=[-180, 180], tickmode="array", tickvals=map_lon_ticks,
                     showgrid=False),
    yaxis=axis_style(domain=ydom(ROW1_Y), anchor="x", range=[-90, 90], tickmode="array", tickvals=map_lat_ticks,
                     showgrid=False),
    xaxis2=date_axis(domain=xdom(LEFT_X), anchor="y2"),
    yaxis2=axis_style(domain=ydom(ROW2_Y), anchor="x2", range=[0, 56.8], tickmode="array", tickvals=[0, 10, 20, 30, 40, 50]),
    xaxis3=date_axis(rng=lat_date_range, domain=xdom(RIGHT_X), anchor="y3"),
    yaxis3=axis_style(domain=ydom(ROW2_Y), anchor="x3", range=[-90, 90], tickmode="array", tickvals=map_lat_ticks),
    xaxis4=date_axis(domain=xdom(LEFT_X), anchor="y4"),
    yaxis4=axis_style(domain=ydom(ROW3_Y), anchor="x4", range=[8190, 13640], tickmode="array",
                      tickvals=[9000, 10000, 11000, 12000, 13000], tickformat="d"),
    xaxis5=axis_style(domain=xdom(RIGHT_X), anchor="y5", range=[-100, 100], tickmode="array",
                      tickvals=[-100, -75, -50, -25, 0, 25, 50, 75, 100]),
    yaxis5=axis_style(domain=ydom(ROW3_Y), anchor="x5", range=[0, 235.2], tickmode="array", tickvals=[0, 50, 100, 150, 200]),
    legend=dict(legend_base, x=xfrac(90), y=yfrac(341), xanchor="left", yanchor="bottom"),
    legend2=dict(legend_base, x=xfrac(783.5), y=yfrac(722), xanchor="right", yanchor="bottom"),
    legend3=dict(legend_base, x=xfrac(1561.5), y=yfrac(814), xanchor="right", yanchor="top"),
)

fig.write_html("out.html")
